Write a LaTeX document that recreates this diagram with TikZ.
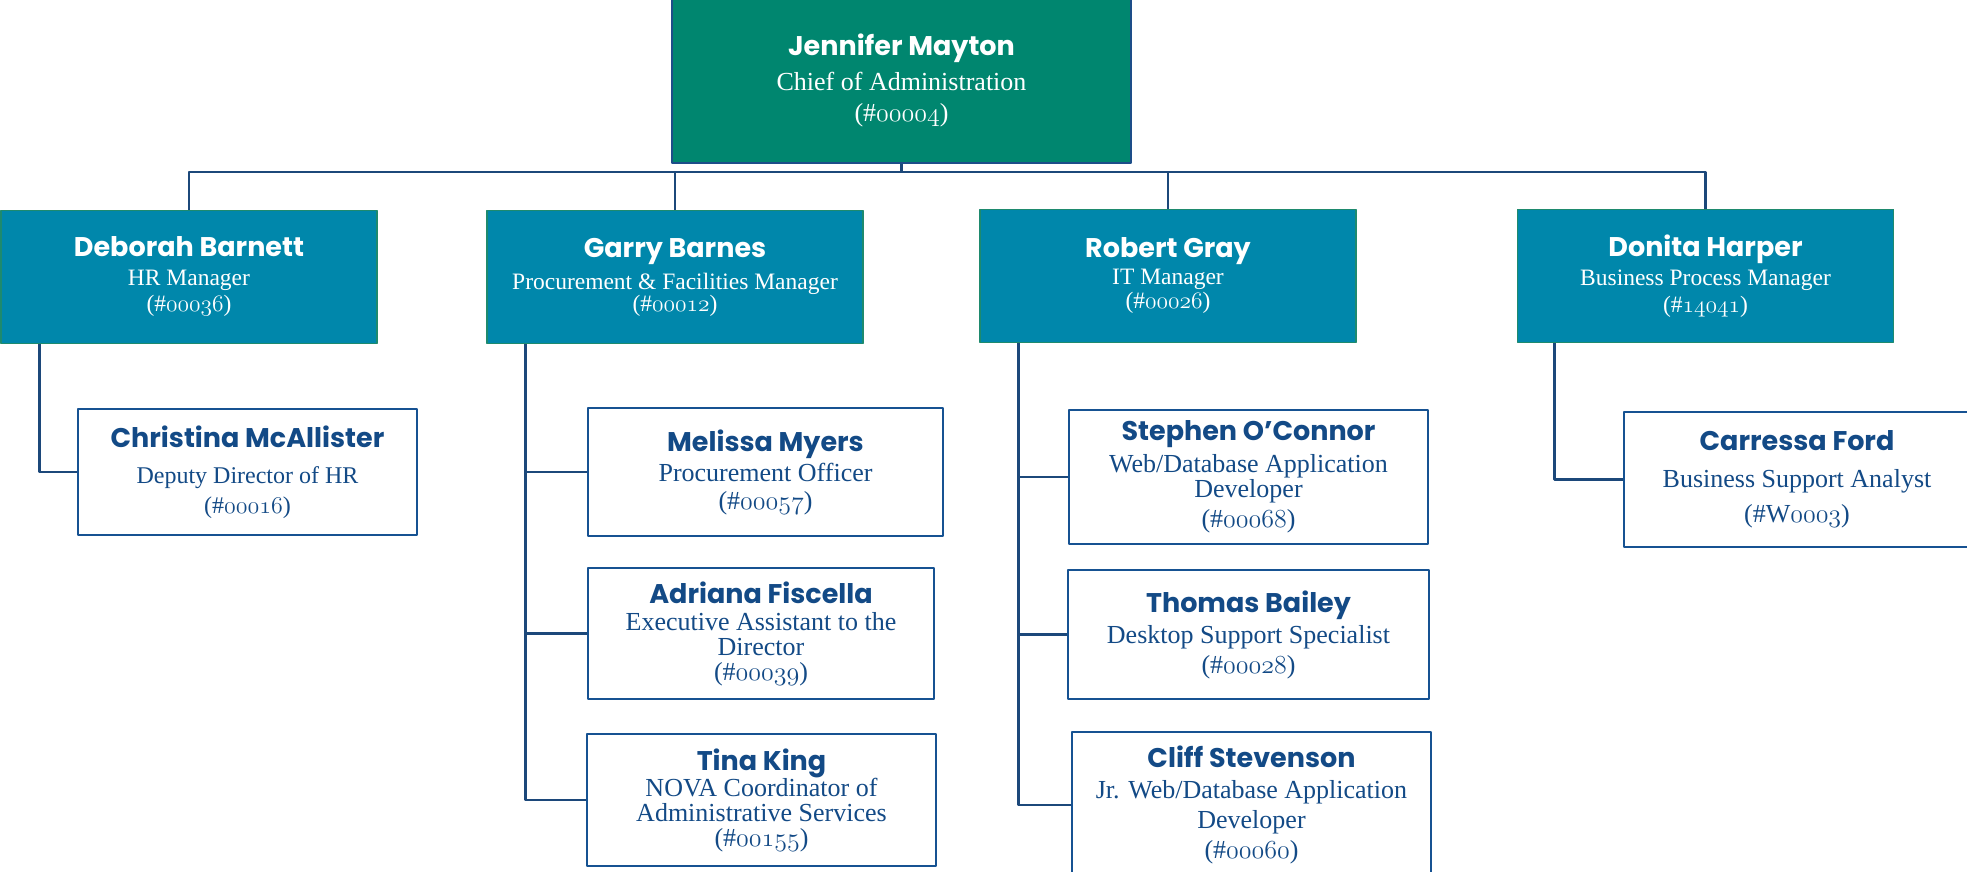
\documentclass[tikz,border=0pt]{standalone}
\usepackage{fontspec}
\usepackage{fix-cm}
\setmainfont{Liberation Serif}
\newfontfamily\namefont{Poppins}
\usetikzlibrary{shapes,positioning}

\definecolor{bossfill}{HTML}{00866F}
\definecolor{bossline}{HTML}{1D4E89}
\definecolor{mgrfill}{HTML}{0087AB}
\definecolor{mgrline}{HTML}{1E8A6E}
\definecolor{staffline}{HTML}{165292}
\definecolor{stafftext}{HTML}{134A86}
\definecolor{linkcol}{HTML}{1C487A}

\newcommand{\who}[1]{{\namefont\bfseries\fontsize{27bp}{30bp}\selectfont #1}}
\newcommand{\osn}[1]{{\fontencoding{OML}\fontfamily{cmm}\fontseries{m}\fontshape{it}\selectfont #1}}

\begin{document}
\begin{tikzpicture}[line join=bevel,
  card/.style={align=center,inner sep=0pt},
  boss/.style={card,draw=bossline,line width=2.5bp,fill=bossfill,text=white,
    font=\fontsize{26bp}{31bp}\selectfont},
  mgr/.style={card,draw=mgrline,line width=1.5bp,fill=mgrfill,text=white,
    minimum width=376bp,minimum height=133bp,font=\fontsize{23.5bp}{28bp}\selectfont},
  staff/.style={card,draw=staffline,line width=2.5bp,fill=white,text=stafftext,
    font=\fontsize{26bp}{30bp}\selectfont},
  link/.style={draw=linkcol,line width=2.6bp},
]
\useasboundingbox (0,0) rectangle (1967bp,872bp);
%%
\node (jm) at (901.5bp,792bp) [boss,minimum width=459bp,minimum height=166bp]
  {\who{Jennifer Mayton}\\[4bp] Chief of Administration\\ (\#\osn{00004})};
  \node (db) at (189bp,595bp) [mgr] {\who{Deborah Barnett}\\[1bp] HR Manager\\[-2bp] (\#\osn{00036})};
  \node (gb) at (675bp,595bp) [mgr] {\who{Garry Barnes}\\[4bp] Procurement \& Facilities Manager\\[-6bp] (\#\osn{00012})};
  \node (rg) at (1168bp,596bp) [mgr] {\who{Robert Gray}\\[-1bp] IT Manager\\[-4bp] (\#\osn{00026})};
  \node (dh) at (1705.5bp,596bp) [mgr] {\who{Donita Harper}\\[1bp] Business Process Manager\\[-1bp] (\#\osn{14041})};
  \node (cm) at (247.5bp,400bp) [staff,minimum width=339bp,minimum height=126bp,
    font=\fontsize{24bp}{28bp}\selectfont]
    {\who{Christina McAllister}\\[8bp] Deputy Director of HR\\[2bp] (\#\osn{00016})};
  \node (mm) at (765.5bp,400bp) [staff,minimum width=355bp,minimum height=128bp]
    {\who{Melissa Myers}\\ Procurement Officer\\[-2bp] (\#\osn{00057})};
  \node (af) at (761bp,238.5bp) [staff,minimum width=346bp,minimum height=131bp]
    {\who{Adriana Fiscella}\\[-3bp] Executive Assistant to the\\[-5bp] Director\\[-5bp] (\#\osn{00039})};
  \node (tk) at (761.5bp,72bp) [staff,minimum width=349bp,minimum height=132bp]
    {\who{Tina King}\\[-4bp] NOVA Coordinator of\\[-5bp] Administrative Services\\[-5bp] (\#\osn{00155})};
  \node (so) at (1248.5bp,395bp) [staff,minimum width=359bp,minimum height=134bp]
    {\who{Stephen O’Connor}\\[2bp] Web/Database Application\\[-5bp] Developer\\ (\#\osn{00068})};
  \node (tb) at (1248.5bp,237.5bp) [staff,minimum width=361bp,minimum height=129bp]
    {\who{Thomas Bailey}\\[1bp] Desktop Support Specialist\\ (\#\osn{00028})};
  \node (cs) at (1251.5bp,67bp) [staff,minimum width=359bp,minimum height=146bp]
    {\who{Cliff Stevenson}\\[1bp] Jr. Web/Database Application\\ Developer\\ (\#\osn{00060})};
  \node (cf) at (1797bp,392.5bp) [staff,minimum width=346bp,minimum height=135bp]
    {\who{Carressa Ford}\\[7bp] Business Support Analyst\\[5bp] (\#W\osn{0003})};
%
  \coordinate (bar) at (901.5bp,700bp);
  \draw [link] (jm.south) -- (bar);
  \draw [link] (db.north) |- (bar) -| (dh.north);
  \draw [link] (gb.north) -- (gb.north |- bar);
  \draw [link] (rg.north) -- (rg.north |- bar);
  \draw [link] (db.south west) ++(39bp,0) |- (cm.west);
  \foreach \c in {mm,af,tk}
    \draw [link] (gb.south west) ++(39bp,0) |- (\c.west);
  \foreach \c in {so,tb,cs}
    \draw [link] (rg.south west) ++(39bp,0) |- (\c.west);
  \draw [link] (dh.south west) ++(38bp,0) |- (cf.west);
%
\end{tikzpicture}
\end{document}
